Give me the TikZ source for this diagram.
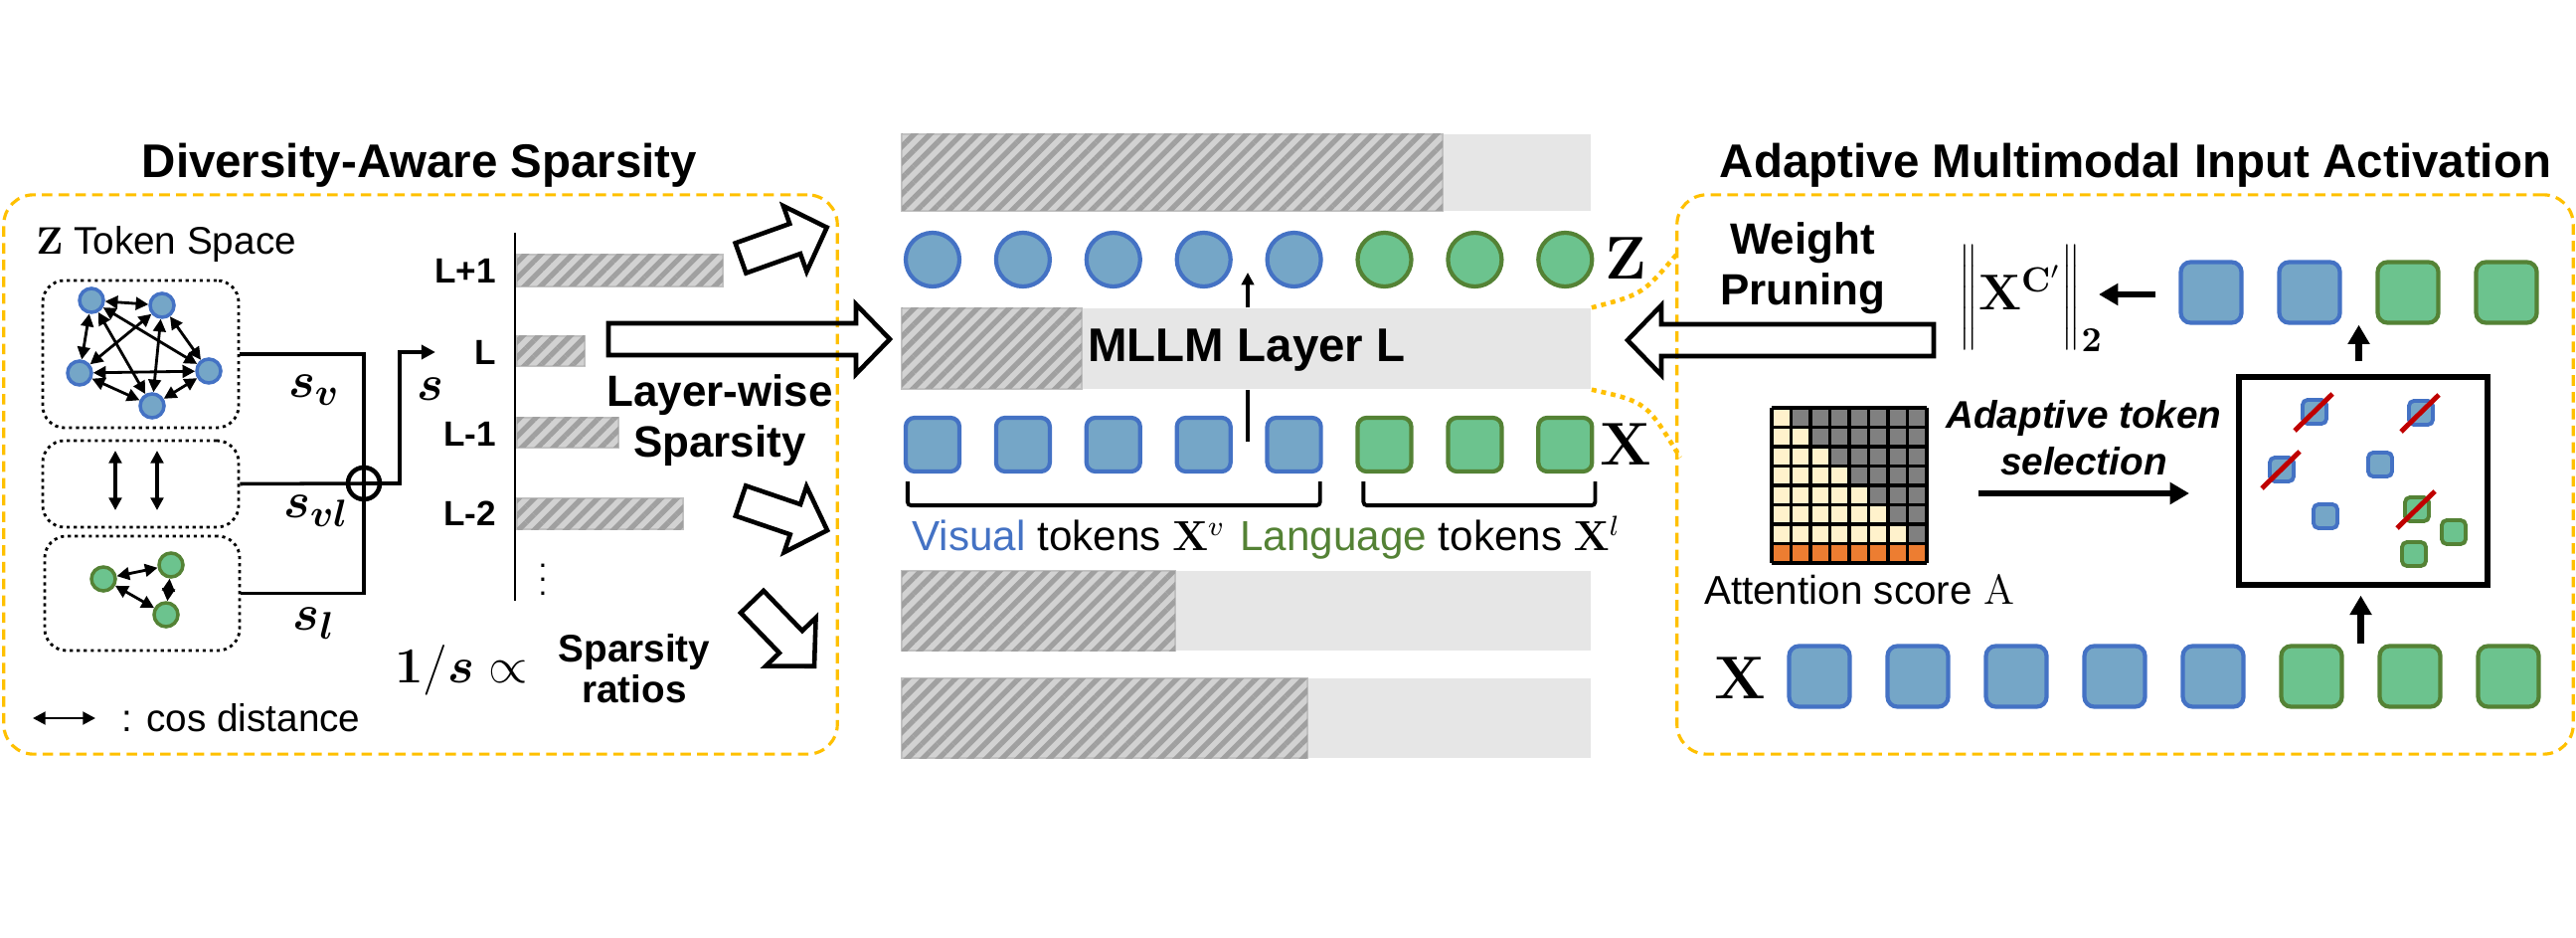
\documentclass[tikz,border=0pt]{standalone}
\usepackage[no-math]{fontspec}
\setmainfont{Liberation Sans}
\usepackage{bm}
\usetikzlibrary{arrows.meta,patterns.meta,calc}

\definecolor{vfill}{RGB}{117,166,199}
\definecolor{vedge}{RGB}{68,114,196}
\definecolor{lfill}{RGB}{108,195,142}
\definecolor{ledge}{RGB}{84,130,53}
\definecolor{gold}{RGB}{255,192,0}
\definecolor{barbg}{RGB}{230,230,230}
\definecolor{hatchbg}{RGB}{210,210,210}
\definecolor{hatchfg}{RGB}{160,160,160}
\definecolor{hatchbd}{RGB}{192,192,192}
\definecolor{cream}{RGB}{255,242,204}
\definecolor{cellgray}{RGB}{128,128,128}
\definecolor{cellorange}{RGB}{237,125,49}
\definecolor{cutred}{RGB}{192,0,0}

\newcommand{\hollowarrow}[4]{%
  \draw[hollow, shift={(#1,#2)}, rotate=#3]
    (0,-16) -- ({#4-34},-16) -- ({#4-34},-35) -- (#4,0) -- ({#4-34},35) -- ({#4-34},16) -- (0,16) -- cycle;}

\tikzset{
  panel/.style={draw=gold, line width=0.9pt, dash pattern=on 3pt off 1.8pt, rounded corners=0.3cm, inner sep=0pt},
  paneltitle/.style={font=\fontsize{13.5}{16}\selectfont\bfseries},
  dotbox/.style={draw, line width=0.8pt, dash pattern=on 0.9pt off 1.1pt, rounded corners=0.22cm, inner sep=0pt},
  gtok/.style={circle, draw=#1edge, fill=#1fill, line width=1pt, minimum size=0.24cm, inner sep=0pt},
  ztok/.style={circle, draw=#1edge, fill=#1fill, line width=1.2pt, minimum size=0.54cm, inner sep=0pt},
  xtok/.style={rectangle, rounded corners=0.09cm, draw=#1edge, fill=#1fill, line width=1.2pt, minimum size=0.54cm, inner sep=0pt},
  rtok/.style={xtok=#1, minimum size=0.61cm, rounded corners=0.1cm},
  stok/.style={rectangle, rounded corners=0.05cm, draw=#1edge, fill=#1fill, line width=1.1pt, minimum size=0.24cm, inner sep=0pt},
  dist/.style={{Triangle[length=3.6pt,width=3.6pt]}-{Triangle[length=3.6pt,width=3.6pt]}, line width=0.8pt},
  wire/.style={line width=1pt},
  hatch/.style={fill=hatchbg, draw=hatchbd, line width=0.8pt, postaction={pattern={Lines[angle=45,distance=3.2pt,line width=1.5pt]}, pattern color=hatchfg}},
  hollow/.style={draw, line width=1.3pt},
  mathlab/.style={font=\fontsize{15}{18}\selectfont},
  bigmath/.style={font=\fontsize{17}{20}\selectfont},
  laylab/.style={font=\fontsize{10}{12}\selectfont\bfseries, inner sep=1pt},
  boldlab/.style={font=\fontsize{12.5}{14.5}\selectfont\bfseries, align=center},
  smalllab/.style={font=\fontsize{11}{13}\selectfont},
  fatarrow/.style={line width=1.8pt, -{Triangle[length=5.5pt,width=6pt]}},
  thinarrow/.style={line width=0.9pt, -{Triangle[length=3.5pt,width=3.5pt]}},
  cut/.style={draw=cutred, line width=1.4pt},
  golddot/.style={draw=gold, line width=1.3pt, dash pattern=on 1.4pt off 1.4pt},
}

\begin{document}
\begin{tikzpicture}[x=0.01cm,y=-0.01cm]
  \useasboundingbox (0,0) rectangle (2591,943);

  %% Panels
  \node[panel, minimum width=8.38cm, minimum height=5.62cm] (dpanel) at (423,477) {};
  \node[panel, minimum width=9.01cm, minimum height=5.62cm] (apanel) at (2137.5,477) {};
  \node[paneltitle, anchor=base] (dtitle) at (422,179) {Diversity-Aware Sparsity};
  \node[paneltitle, anchor=base] (atitle) at (2148,179) {Adaptive Multimodal Input Activation};

  %% Token space
  \node[smalllab, anchor=west] (zspace) at (24,246) {$\mathbf{Z}$ Token Space};
  \node[dotbox, minimum width=1.97cm, minimum height=1.48cm] (vbox) at (141.5,356) {};
  \node[dotbox, minimum width=1.97cm, minimum height=0.87cm] (vlbox) at (141.5,486.5) {};
  \node[dotbox, minimum width=1.96cm, minimum height=1.15cm] (lbox) at (143,596.5) {};

  \node[gtok=v] (v1) at (92,302) {};
  \node[gtok=v] (v2) at (163,307) {};
  \node[gtok=v] (v3) at (80,375) {};
  \node[gtok=v] (v4) at (210,373) {};
  \node[gtok=v] (v5) at (153,408) {};
  \foreach \a/\b in {1/2,1/3,1/4,1/5,2/3,2/4,2/5,3/4,3/5,4/5}
    \draw[dist] (v\a) -- (v\b);

  \node[gtok=l] (g1) at (104,582) {};
  \node[gtok=l] (g2) at (172,568) {};
  \node[gtok=l] (g3) at (167,618) {};
  \foreach \a/\b in {1/2,1/3,2/3}
    \draw[dist] (g\a) -- (g\b);

  \coordinate (c1) at (116,453); \coordinate (d1) at (116,513);
  \coordinate (c2) at (158,453); \coordinate (d2) at (158,513);
  \draw[dist, line width=1pt] (c1) -- (d1);
  \draw[dist, line width=1pt] (c2) -- (d2);

  %% Legend
  \coordinate (lg1) at (33,722); \coordinate (lg2) at (96,722);
  \draw[dist] (lg1) -- (lg2);
  \node[smalllab, anchor=west] (lgtext) at (110,722) {: cos distance};

  %% Similarity sum
  \node[circle, draw, line width=1.3pt, minimum size=0.32cm, inner sep=0pt] (sum) at (366,486) {};
  \node[laylab, anchor=east] (lL1) at (503,272) {L+1};
  \node[laylab, anchor=east] (lL) at (503,354) {L};
  \node[laylab, anchor=east] (lLm1) at (503,436) {L-1};
  \node[laylab, anchor=east] (lLm2) at (503,516) {L-2};
  \draw[wire] (vbox.east) -| (sum.center) |- (lbox.east);
  \draw[wire] (vlbox.east) -- (sum.center);
  \draw[wire, -{Triangle[length=4pt,width=4pt]}] (sum.center) -- ++(36,0) |- ([xshift=-10]lL.west);
  \node[mathlab] (sv) at (316,392) {$\bm{s_{v}}$};
  \node[mathlab] (svl) at (318,514) {$\bm{s_{vl}}$};
  \node[mathlab] (sl) at (316,627) {$\bm{s_{l}}$};
  \node[mathlab] (s) at (433,391) {$\bm{s}$};

  %% Layer-wise sparsity bars
  \coordinate (ax1) at (518,234); \coordinate (ax2) at (518,604);
  \draw[line width=0.8pt] (ax1) -- (ax2);
  \path[hatch] (520,256) rectangle (727,288);
  \path[hatch] (520,338) rectangle (588,368);
  \path[hatch] (520,420) rectangle (622,450);
  \path[hatch] (520,501) rectangle (687,532);
  \node[font=\fontsize{9}{11}\selectfont, inner sep=0pt] (vdots) at (546,572) {$\vdots$};
  \node[mathlab] (prop) at (464,674) {$\mathbf{1}/\bm{s}\propto$};
  \node[font=\fontsize{11}{11.5}\selectfont\bfseries, align=center] (ratios) at (638,672) {Sparsity\\ratios};
  \node[boldlab] (lws) at (724,423) {Layer-wise\\Sparsity};

  \hollowarrow{745}{259.5}{19.6}{92}
  \hollowarrow{612}{341}{0}{283}
  \hollowarrow{745}{503.5}{-18.8}{92}
  \hollowarrow{756.5}{605}{-46}{90}

  %% Middle: layers and tokens
  \fill[barbg] (907,135) rectangle (1600,212);
  \path[hatch] (907,135) rectangle (1451,212);
  \node[fill=barbg, inner sep=0pt, minimum width=6.93cm, minimum height=0.81cm] (layer) at (1253.5,350.5) {};
  \path[hatch] (907,310) rectangle (1088,391);
  \node[font=\fontsize{13.5}{16}\selectfont\bfseries] (ltext) at (1254,352) {MLLM Layer L};
  \fill[barbg] (907,574) rectangle (1600,654);
  \path[hatch] (907,574) rectangle (1182,654);
  \fill[barbg] (907,682) rectangle (1600,762);
  \path[hatch] (907,682) rectangle (1315,762);

  \foreach \i/\c in {1/v,2/v,3/v,4/v,5/v,6/l,7/l,8/l} {
    \node[ztok=\c] (z\i) at ({938+90.9*(\i-1)},261) {};
    \node[xtok=\c] (x\i) at ({938+90.9*(\i-1)},447) {};
  }
  \node[bigmath] (zlab) at (1635,260) {$\mathbf{Z}$};
  \node[bigmath] (xlab) at (1635,447) {$\mathbf{X}$};

  \coordinate (zin) at (1255,274);
  \coordinate (xout) at (1255,444);
  \draw[thinarrow] (layer.north -| zin) -- (zin);
  \draw[wire] (xout) -- (layer.south -| xout);

  \draw[wire, line width=1.1pt, rounded corners=1pt] ([shift={(4,8)}]x1.south west) -- ++(0,24) -| ([shift={(-3,8)}]x5.south east);
  \draw[wire, line width=1.1pt, rounded corners=1pt] ([shift={(8,8)}]x6.south west) -- ++(0,24) -| ([shift={(1,8)}]x8.south east);
  \node[font=\fontsize{12}{14}\selectfont, anchor=base west] (vislab) at (905,554) {\textcolor{vedge}{Visual} tokens $\mathbf{X}^{v}$};
  \node[font=\fontsize{12}{14}\selectfont, anchor=base west] (langlab) at (1235,554) {\textcolor{ledge}{Language} tokens $\mathbf{X}^{l}$};

  %% Zoom lines
  \coordinate (ztop) at (1687,255);
  \coordinate (zbot) at (1690,460);
  \draw[golddot] (layer.north east) .. controls (1652,296) .. (ztop);
  \draw[golddot] (layer.south east) .. controls (1656,404) .. (zbot);

  %% Right panel
  \node[boldlab] (wprune) at (1813,270) {Weight\\Pruning};
  \hollowarrow{1945}{342}{180}{308}
  \node[font=\fontsize{14}{17}\selectfont, inner sep=0pt] (norm) at (2043,300) {$\Bigg\|\mathbf{X}^{\mathbf{C}'}\Bigg\|_{\mathbf{2}}$};

  \foreach \i/\c in {1/v,2/v,3/l,4/l}
    \node[rtok=\c] (k\i) at ({2224+99*(\i-1)},294) {};
  \foreach \i/\c in {1/v,2/v,3/v,4/v,5/v,6/l,7/l,8/l}
    \node[rtok=\c] (a\i) at ({1830+99*(\i-1)},680) {};
  \node[bigmath] (xlab2) at (1750,682) {$\mathbf{X}$};

  \coordinate (nr1) at (2168,296); \coordinate (nr2) at (2111,296);
  \draw[fatarrow] (nr1) -- (nr2);

  %% Attention score
  \fill[cellgray] (1782,410) rectangle (1938,546.5);
  \fill[cellorange] (1782,546.5) rectangle (1938,566);
  \foreach \r in {0,...,6}
    \foreach \c in {0,...,\r}
      \fill[cream] ({1782+19.5*\c},{410+19.5*\r}) rectangle ++(19.5,19.5);
  \foreach \k in {0,...,8} {
    \draw[line width=1.1pt] ({1782+19.5*\k},410) -- ++(0,156);
    \draw[line width=1.1pt] (1782,{410+19.5*\k}) -- ++(156,0);
  }
  \node[font=\fontsize{11.5}{13}\selectfont, anchor=base] (attlab) at (1870,607) {Attention score $\mathrm{A}$};
  \node[font=\fontsize{11}{13.3}\selectfont\bfseries\itshape, align=center] (selab) at (2096,440) {Adaptive token\\selection};
  \coordinate (sa1) at (1990,496); \coordinate (sa2) at (2202,496);
  \draw[fatarrow, line width=1.6pt] (sa1) -- (sa2);

  %% Token selection
  \node[draw, line width=1.5pt, minimum width=2.5cm, minimum height=2.09cm] (selbox) at (2377,483.5) {};
  \node[stok=v] (s1) at (2328,414) {};
  \node[stok=v] (s2) at (2435,415) {};
  \node[stok=v] (s3) at (2295,472) {};
  \node[stok=v] (s4) at (2394,467) {};
  \node[stok=v] (s5) at (2339,519) {};
  \node[stok=l] (s6) at (2431,512) {};
  \node[stok=l] (s7) at (2468,535) {};
  \node[stok=l] (s8) at (2428,557) {};
  \foreach \n in {1,2,3,6}
    \draw[cut] ([shift={(-20,19)}]s\n.center) -- ([shift={(18,-18)}]s\n.center);

  \coordinate (selin) at ($(a6.north)!0.5!(a7.north)$);
  \coordinate (selout) at ($(k2.south)!0.5!(k3.south)$);
  \draw[fatarrow, shorten <=4pt, shorten >=0.08cm] ([yshift=-4]selin) -- (selin |- selbox.south);
  \draw[fatarrow, shorten <=0.13cm] (selbox.north -| selout) -- (selout);
\end{tikzpicture}
\end{document}
